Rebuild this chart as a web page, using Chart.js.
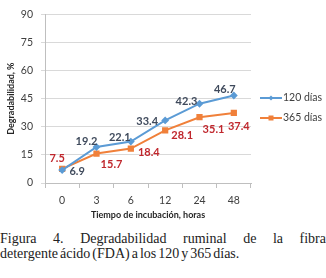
<!DOCTYPE html>
<html><head><meta charset="utf-8">
<script src="https://cdn.jsdelivr.net/npm/chart.js@4/dist/chart.umd.min.js"></script>
<style>
html,body{margin:0;padding:0;background:#fff;width:326px;height:278px;overflow:hidden;}
#wrap{position:absolute;left:0;top:0;width:326px;height:222px;}
.cap{position:absolute;left:0;width:326px;font-family:"Liberation Serif","Times New Roman",serif;font-size:14px;color:#222;white-space:nowrap;}
#c1{top:231px;text-align:justify;text-align-last:justify;}
#c2{top:246px;word-spacing:-1.5px;}
</style></head>
<body>
<div id="wrap"><canvas id="chart"></canvas></div>
<div class="cap" id="c1">Figura 4. Degradabilidad ruminal de la fibra</div>
<div class="cap" id="c2">detergente ácido (FDA) a los 120 y 365 días.</div>
<script>
const categories = ["0", "3", "6", "12", "24", "48"];
const series120 = [6.9, 19.2, 22.1, 33.4, 42.3, 46.7];
const series365 = [7.5, 15.7, 18.4, 28.1, 35.1, 37.4];
const seriesNames = ["120 días", "365 días"];
const yTicks = [0, 15, 30, 45, 60, 75, 90];

const labelOffsets = [
  [[15,1],[-10,-6],[-11,-4],[-18,1],[-13,-2],[-9,-6]],
  [[-5,-10],[15,11],[18,4],[17,5],[14,12],[5,14]]
];
const labelColors = ["#3f4a5c", "#c0272d"];
const FONT = "Lato, 'Open Sans', sans-serif";

const dataLabels = {
  id: 'dataLabels',
  afterDatasetsDraw(chart) {
    const ctx = chart.ctx;
    ctx.save();
    ctx.font = "bold 11px " + FONT;
    ctx.textAlign = 'center';
    ctx.textBaseline = 'middle';
    chart.data.datasets.forEach((ds, di) => {
      const meta = chart.getDatasetMeta(di);
      ctx.fillStyle = labelColors[di];
      meta.data.forEach((pt, i) => {
        const o = labelOffsets[di][i];
        ctx.fillText(ds.data[i].toFixed(1), pt.x + o[0], pt.y + o[1]);
      });
    });
    ctx.restore();
  }
};

const customLegend = {
  id: 'customLegend',
  afterDraw(chart) {
    const ctx = chart.ctx;
    ctx.save();
    const ys = [98, 118];
    chart.data.datasets.forEach((ds, di) => {
      const y = ys[di];
      ctx.strokeStyle = ds.borderColor;
      ctx.lineWidth = 2;
      ctx.beginPath(); ctx.moveTo(260, y); ctx.lineTo(282, y); ctx.stroke();
      ctx.fillStyle = ds.borderColor;
      if (di === 0) {
        ctx.beginPath(); ctx.moveTo(271, y-2.5); ctx.lineTo(273.5, y); ctx.lineTo(271, y+2.5); ctx.lineTo(268.5, y); ctx.closePath(); ctx.fill();
      } else {
        ctx.fillRect(268.5, y-2.5, 5, 5);
      }
      ctx.fillStyle = '#404040';
      ctx.font = "10.5px " + FONT;
      ctx.textAlign = 'left';
      ctx.textBaseline = 'middle';
      ctx.fillText(ds.label, 283, y);
    });
    ctx.restore();
  }
};

new Chart(document.getElementById('chart'), {
  type: 'line',
  data: {
    labels: categories,
    datasets: [
      { label: seriesNames[0], data: series120, borderColor: '#5b9bd5', backgroundColor: '#5b9bd5',
        borderWidth: 2, pointStyle: 'rectRot', pointRadius: 2.5, tension: 0 },
      { label: seriesNames[1], data: series365, borderColor: '#f0803a', backgroundColor: '#f0803a',
        borderWidth: 2, pointStyle: 'rect', pointRadius: 3, tension: 0 }
    ]
  },
  options: {
    responsive: true, maintainAspectRatio: false, animation: false,
    layout: { padding: { left: 6, right: 75, top: 0, bottom: 0 } },
    plugins: { legend: { display: false }, tooltip: { enabled: false } },
    scales: {
      x: {
        offset: true,
        afterFit(s) { s.height = 39; },
        grid: { display: true, drawOnChartArea: false, offset: true, tickLength: 5, color: '#bfbfbf' },
        border: { color: '#bfbfbf' },
        ticks: { color: '#404040', font: { family: FONT, size: 10.5 }, padding: 6 },
        title: { display: true, text: 'Tiempo de incubación, horas', color: '#262626',
          font: { family: FONT, size: 9, weight: 'bold' }, padding: { top: 2, bottom: 2 } }
      },
      y: {
        min: 0, max: 90,
        afterFit(s) { s.width = 39; },
        afterBuildTicks(s) { s.ticks = yTicks.map(v => ({ value: v })); },
        grid: { color: '#d9d9d9', tickLength: 4 },
        border: { color: '#bfbfbf' },
        ticks: { color: '#404040', font: { family: FONT, size: 10.5 }, padding: 8 },
        title: { display: true, text: 'Degradabilidad, %', color: '#262626',
          font: { family: FONT, size: 9, weight: 'bold' }, padding: { top: 0, bottom: 2 } }
      }
    }
  },
  plugins: [dataLabels, customLegend]
});
</script>
</body></html>
